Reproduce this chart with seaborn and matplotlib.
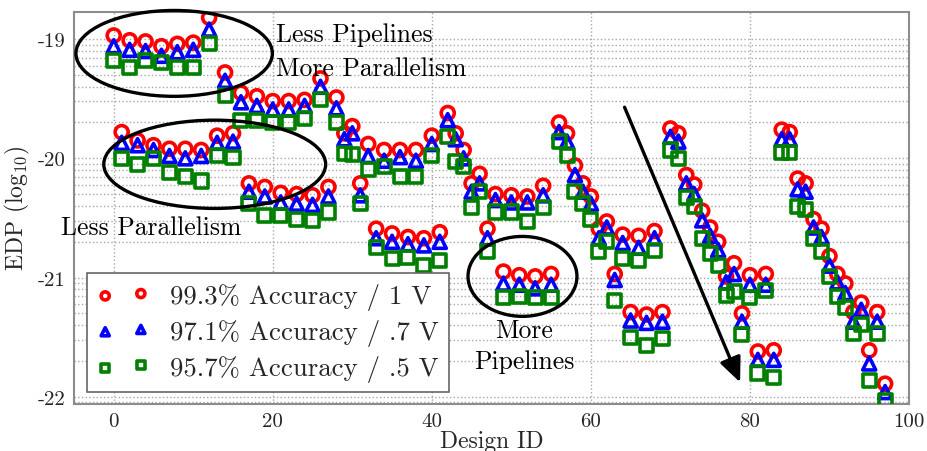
import numpy as np
import pandas as pd
import matplotlib
matplotlib.use("Agg")
import matplotlib.pyplot as plt
from matplotlib.patches import Ellipse
import seaborn as sns

# Design IDs and log10(EDP) for each accuracy / voltage setting
design_id = list(range(98))

edp_993_1v = [
    -18.97, -19.78, -19.01, -19.85, -19.02, -19.89, -19.06, -19.92, -19.04, -19.92,
    -19.03, -19.93, -18.82, -19.81, -19.28, -19.79, -19.45, -20.21, -19.48, -20.24,
    -19.52, -20.29, -19.52, -20.30, -19.51, -20.31, -19.33, -20.24, -19.49, -19.79,
    -19.73, -20.21, -19.88, -20.59, -19.93, -20.63, -19.93, -20.66, -19.93, -20.67,
    -19.81, -20.62, -19.62, -19.79, -19.93, -20.21, -20.13, -20.59, -20.30, -20.95,
    -20.31, -20.98, -20.32, -20.99, -20.23, -20.97, -19.70, -19.79, -20.06, -20.21,
    -20.32, -20.59, -20.53, -20.97, -20.64, -21.29, -20.65, -21.31, -20.61, -21.29,
    -19.75, -19.79, -20.14, -20.22, -20.44, -20.58, -20.70, -20.99, -20.88, -21.30,
    -20.98, -21.62, -20.97, -21.61, -19.76, -19.78, -20.17, -20.21, -20.51, -20.59,
    -20.82, -20.97, -21.05, -21.29, -21.21, -21.61, -21.29, -21.89,
]

edp_971_07v = [
    -19.06, -19.87, -19.09, -19.89, -19.10, -19.93, -19.14, -19.98, -19.11, -20.00,
    -19.09, -19.98, -18.92, -19.87, -19.35, -19.86, -19.53, -20.28, -19.56, -20.32,
    -19.59, -20.37, -19.59, -20.38, -19.56, -20.39, -19.40, -20.32, -19.58, -19.84,
    -19.79, -20.31, -19.98, -20.67, -20.02, -20.70, -19.99, -20.72, -20.02, -20.73,
    -19.88, -20.70, -19.68, -19.84, -20.00, -20.28, -20.21, -20.67, -20.35, -21.05,
    -20.37, -21.06, -20.37, -21.09, -20.31, -21.06, -19.78, -19.86, -20.14, -20.28,
    -20.38, -20.67, -20.58, -21.02, -20.71, -21.36, -20.75, -21.38, -20.67, -21.37,
    -19.82, -19.86, -20.21, -20.30, -20.52, -20.65, -20.77, -21.04, -20.97, -21.37,
    -21.06, -21.69, -21.06, -21.69, -19.84, -19.84, -20.26, -20.28, -20.58, -20.66,
    -20.90, -21.04, -21.13, -21.37, -21.27, -21.72, -21.37, -21.96,
]

edp_957_05v = [
    -19.18, -20.00, -19.24, -20.05, -19.18, -20.00, -19.20, -20.12, -19.24, -20.15,
    -19.24, -20.19, -19.04, -19.98, -19.47, -19.99, -19.68, -20.38, -19.68, -20.48,
    -19.70, -20.48, -19.70, -20.51, -19.67, -20.52, -19.51, -20.45, -19.70, -19.96,
    -19.97, -20.38, -20.09, -20.75, -20.07, -20.84, -20.15, -20.83, -20.15, -20.90,
    -19.98, -20.86, -19.82, -20.03, -20.07, -20.41, -20.28, -20.78, -20.45, -21.17,
    -20.45, -21.16, -20.53, -21.17, -20.41, -21.17, -19.86, -19.98, -20.28, -20.38,
    -20.51, -20.78, -20.70, -21.19, -20.84, -21.50, -20.86, -21.57, -20.77, -21.51,
    -19.93, -20.00, -20.33, -20.40, -20.67, -20.80, -20.90, -21.15, -21.12, -21.48,
    -21.17, -21.80, -21.11, -21.84, -19.95, -19.95, -20.40, -20.43, -20.67, -20.78,
    -20.99, -21.16, -21.25, -21.47, -21.39, -21.86, -21.47, -22.03,
]

series_labels = [
    "99.3% Accuracy / 1 V",
    "97.1% Accuracy / .7 V",
    "95.7% Accuracy / .5 V",
]
series_values = [edp_993_1v, edp_971_07v, edp_957_05v]
series_colors = ["#ff0000", "#0000ff", "#008000"]
series_markers = ["o", "^", "s"]

frames = [
    pd.DataFrame({"Design ID": design_id, "EDP": vals, "Config": lab})
    for lab, vals in zip(series_labels, series_values)
]
df = pd.concat(frames, ignore_index=True)

sns.set_theme(style="white")
plt.rcParams["font.family"] = ["cmr10", "DejaVu Serif"]
plt.rcParams["mathtext.fontset"] = "cm"
plt.rcParams["axes.formatter.use_mathtext"] = True
plt.rcParams["axes.unicode_minus"] = False

fig = plt.figure(figsize=(9.28, 4.52), dpi=100)
ax = fig.add_axes([0.0797, 0.104, 0.8998, 0.868])

handles = []
for lab, col, mk in zip(series_labels, series_colors, series_markers):
    sub = df[df["Config"] == lab]
    sns.scatterplot(
        data=sub, x="Design ID", y="EDP", ax=ax,
        marker=mk, s=88, color=col, facecolors="none", edgecolor=col,
        linewidth=2.6, label=lab, legend=False, zorder=3,
    )
    handles.append(ax.collections[-1])

# Axis ticks: log10 decades with log-spaced minor positions
ax.set_xticks([0, 20, 40, 60, 80, 100])
ax.set_xticklabels(["0", "20", "40", "60", "80", "100"])
ax.set_yticks([-22, -21, -20, -19])
ax.set_yticklabels(["-22", "-21", "-20", "-19"])
minor = [n + np.log10(k) for n in range(-23, -18) for k in range(2, 10)]
ax.set_yticks(minor, minor=True)
ax.set_xlim(-5, 100)
ax.set_ylim(-22.06, -18.77)
ax.tick_params(axis="both", which="major", labelsize=15, direction="in",
               length=4, color="#888888", pad=6)
ax.tick_params(axis="y", which="minor", direction="in", length=2.5,
               color="#888888")

ax.grid(True, which="major", axis="both", linestyle=":", color="#a8a8a8",
        linewidth=1.0)
ax.grid(True, which="minor", axis="y", linestyle=":", color="#a8a8a8",
        linewidth=1.0)
ax.set_axisbelow(True)

for sp in ax.spines.values():
    sp.set_color("#8c8c8c")
    sp.set_linewidth(1.5)

ax.set_xlabel("Design ID", fontsize=17, labelpad=0)
ax.set_ylabel(r"EDP (log$_{10}$)", fontsize=17, labelpad=4)

# Annotations
ell_kw = dict(fill=False, edgecolor="black", linewidth=2.4, zorder=4, clip_on=False)
ax.add_patch(Ellipse((7.6, -19.12), 24.7, 0.72, **ell_kw))
ax.add_patch(Ellipse((12.7, -20.05), 27.9, 0.74, **ell_kw))
ax.add_patch(Ellipse((51.4, -20.99), 13.7, 0.67, **ell_kw))

txt_kw = dict(fontsize=18.5, color="black", zorder=5, clip_on=False)
ax.text(20.35, -18.96, "Less Pipelines", ha="left", va="center", **txt_kw)
ax.text(20.35, -19.24, "More Parallelism", ha="left", va="center", **txt_kw)
ax.text(-6.6, -20.58, "Less Parallelism", ha="left", va="center", **txt_kw)
ax.text(51.6, -21.44, "More", ha="center", va="center", **txt_kw)
ax.text(51.6, -21.70, "Pipelines", ha="center", va="center", **txt_kw)

ax.annotate(
    "", xy=(78.9, -21.90), xytext=(64.1, -19.55),
    arrowprops=dict(arrowstyle="-|>,head_length=0.5,head_width=0.22",
                    color="black", lw=2.4, mutation_scale=30),
    zorder=5,
)

leg = ax.legend(
    handles=handles, labels=series_labels, loc="lower left",
    bbox_to_anchor=(0.0156, 0.031), borderaxespad=0, scatterpoints=2,
    markerscale=0.62, fontsize=19.3, frameon=True, fancybox=False,
    framealpha=1, edgecolor="#666666", borderpad=0.38, labelspacing=0.33,
    handletextpad=0.78, handlelength=1.93,
)
leg.get_frame().set_linewidth(1.2)
leg.set_zorder(6)

fig.savefig("out.png", dpi=100)
